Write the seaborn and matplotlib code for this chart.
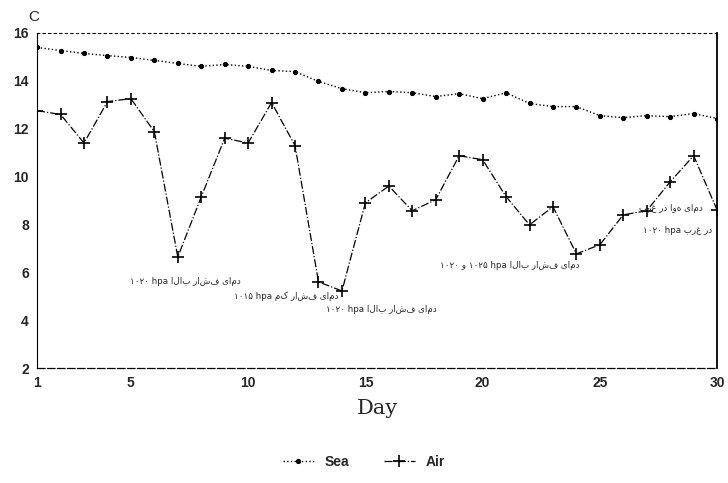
import numpy as np
import pandas as pd
import matplotlib
matplotlib.use("Agg")
import matplotlib.pyplot as plt
import seaborn as sns

# data
days = list(range(1, 31))
sea = [15.39, 15.26, 15.14, 15.05, 14.97, 14.85, 14.72, 14.60, 14.68, 14.60,
       14.43, 14.38, 13.97, 13.67, 13.50, 13.55, 13.50, 13.34, 13.46, 13.25,
       13.50, 13.05, 12.92, 12.92, 12.54, 12.46, 12.54, 12.50, 12.63, 12.42]
air = [12.75, 12.59, 11.40, 13.13, 13.25, 11.87, 6.64, 9.15, 11.60, 11.40,
       13.09, 11.29, 5.60, 5.22, 8.90, 9.60, 8.57, 9.03, 10.87, 10.70,
       9.16, 7.98, 8.74, 6.77, 7.15, 8.40, 8.57, 9.78, 10.87, 8.60]
x_ticks = [1, 5, 10, 15, 20, 25, 30]
y_ticks = [2, 4, 6, 8, 10, 12, 14, 16]

# handwritten notes (persian part, pressure part, x, y, alignment)
notes = [
    ("دمای فشار بالا", "۱۰۲۰ hpa", 4.95, 5.6, "left"),
    ("دمای فشار کم", "۱۰۱۵ hpa", 9.4, 5.0, "left"),
    ("دمای فشار بالا", "۱۰۲۰ hpa", 13.3, 4.45, "left"),
    ("دمای فشار بالا", "۱۰۲۰ و ۱۰۲۵ hpa", 18.2, 6.3, "left"),
    ("دمای هوا در غرب", "", 29.4, 8.65, "right"),
    ("در غرب", "۱۰۲۰ hpa", 29.8, 7.75, "right"),
]

df = pd.DataFrame({"Day": days, "Sea": sea, "Air": air})

sns.set_style("white")
plt.rcParams["font.family"] = ["DejaVu Sans"]

fig = plt.figure(figsize=(7.28, 4.83), dpi=100)
ax = fig.add_axes([0.051, 0.238, 0.934, 0.694])

sns.lineplot(data=df, x="Day", y="Sea", ax=ax, color="black", linestyle=":",
             linewidth=1.0, marker="o", markersize=3, markeredgecolor="black",
             label="Sea")
sns.lineplot(data=df, x="Day", y="Air", ax=ax, color="black", linestyle="-.",
             linewidth=0.9, marker="+", markersize=8, markeredgewidth=1.2,
             markeredgecolor="black", label="Air")

ax.set_xlim(1, 30)
ax.set_ylim(2, 16)
ax.set_xticks(x_ticks)
ax.set_yticks(y_ticks)
ax.set_xticks(days, minor=True)
ax.set_yticks(range(2, 17), minor=True)
ax.tick_params(axis="both", which="both", direction="in", length=4, width=0.8)
ax.tick_params(axis="both", which="major", length=5, pad=6)
for lbl in ax.get_xticklabels() + ax.get_yticklabels():
    lbl.set_fontweight("bold")
    lbl.set_fontsize(10)
    lbl.set_family("Liberation Sans")

for side in ["left", "bottom", "right", "top"]:
    ax.spines[side].set_color("black")
ax.spines["top"].set_linestyle((0, (2, 3)))
ax.spines["top"].set_linewidth(0.8)
ax.spines["left"].set_linewidth(0.8)
ax.spines["bottom"].set_linestyle((0, (6, 2)))
ax.spines["bottom"].set_linewidth(0.9)
ax.spines["right"].set_linewidth(1.3)

ax.set_xlabel("Day", fontsize=15, family="DejaVu Serif", labelpad=6)
ax.set_ylabel("")
ax.text(-0.005, 1.025, "C", transform=ax.transAxes, fontsize=11,
        family="Liberation Sans", ha="center", va="bottom")

for fa, pres, xx, yy, ha in notes:
    txt = (pres + " " if pres else "") + fa[::-1]
    ax.text(xx, yy, txt, fontsize=6.3, ha=ha, va="center",
            family=["DejaVu Sans"])

ax.legend_.remove()
handles, labels = ax.get_legend_handles_labels()
leg = fig.legend(handles, labels, loc="center", bbox_to_anchor=(0.5, 0.043),
                 ncol=2, frameon=False, handlelength=2.2, columnspacing=2.5,
                 prop={"weight": "bold", "size": 10, "family": "Liberation Sans"})

fig.savefig("out.png", dpi=100)
